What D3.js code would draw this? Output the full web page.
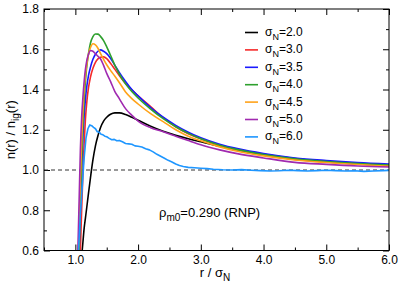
<!DOCTYPE html>
<html>
<head>
<meta charset="utf-8">
<script src="https://cdn.jsdelivr.net/npm/d3@7/dist/d3.min.js"></script>
<style>
	body { margin: 0; background: #fff; }
	text { font-family: "Liberation Sans", Arial, Helvetica, sans-serif; }
</style>
</head>
<body>
<script>
// shared r / sigma_N grid for the smooth curves
const rGrid = [1.02, 1.04, 1.06, 1.08, 1.10, 1.12, 1.14, 1.16, 1.18, 1.21, 1.24, 1.28, 1.32, 1.36, 1.40, 1.45, 1.50, 1.56, 1.63, 1.70,
	1.80, 1.90, 2.00, 2.20, 2.40, 2.60, 2.80, 3.00, 3.30, 3.60, 4.00, 4.50, 5.00, 5.50, 6.00];

const nSigma20 = [0.35, 0.40, 0.45, 0.51, 0.57, 0.64, 0.71, 0.76, 0.81, 0.886, 0.96, 1.05, 1.12, 1.17, 1.21, 1.243, 1.262, 1.277, 1.284, 1.284,
	1.276, 1.262, 1.247, 1.217, 1.192, 1.172, 1.155, 1.14, 1.118, 1.099, 1.078, 1.057, 1.042, 1.031, 1.022];
const nSigma30 = [0.2, 0.3, 0.42, 0.6, 0.8, 0.98, 1.13, 1.25, 1.33, 1.41, 1.46, 1.505, 1.535, 1.552, 1.56, 1.562, 1.553, 1.53, 1.50, 1.47,
	1.43, 1.398, 1.368, 1.315, 1.26, 1.215, 1.18, 1.155, 1.122, 1.10, 1.075, 1.053, 1.04, 1.03, 1.022];
const nSigma35 = [0.25, 0.42, 0.6, 0.82, 1.01, 1.16, 1.27, 1.35, 1.41, 1.47, 1.51, 1.55, 1.575, 1.59, 1.597, 1.59, 1.578, 1.555, 1.52, 1.485,
	1.44, 1.40, 1.368, 1.31, 1.262, 1.222, 1.188, 1.16, 1.128, 1.105, 1.082, 1.06, 1.047, 1.037, 1.03];
const nSigma40 = [0.25, 0.42, 0.6, 0.84, 1.05, 1.22, 1.35, 1.44, 1.51, 1.58, 1.63, 1.663, 1.676, 1.675, 1.664, 1.643, 1.612, 1.57, 1.52, 1.477,
	1.428, 1.39, 1.358, 1.303, 1.255, 1.215, 1.182, 1.155, 1.123, 1.10, 1.077, 1.056, 1.042, 1.032, 1.025];
const nSigma45 = [0.3, 0.5, 0.73, 0.95, 1.14, 1.29, 1.40, 1.47, 1.52, 1.575, 1.607, 1.627, 1.622, 1.605, 1.58, 1.55, 1.523, 1.495, 1.466, 1.435,
	1.388, 1.355, 1.328, 1.28, 1.24, 1.2, 1.168, 1.145, 1.115, 1.092, 1.07, 1.05, 1.037, 1.027, 1.019];
const nSigma50 = [0.4, 0.6, 0.85, 1.1, 1.26, 1.36, 1.44, 1.50, 1.54, 1.575, 1.594, 1.59, 1.578, 1.565, 1.553, 1.52, 1.48, 1.44, 1.39, 1.355,
	1.305, 1.272, 1.243, 1.21, 1.19, 1.168, 1.146, 1.125, 1.10, 1.08, 1.06, 1.038, 1.028, 1.02, 1.015];

// the sigma_N = 6.0 curve is noisy, sampled on its own grid
const rNoisy = [1.02, 1.05, 1.08, 1.11, 1.14, 1.17, 1.20, 1.23, 1.26, 1.29, 1.32, 1.35, 1.38, 1.41, 1.44, 1.47, 1.50, 1.54, 1.58, 1.62,
	1.66, 1.70, 1.75, 1.80, 1.85, 1.90, 1.95, 2.00, 2.06, 2.12, 2.18, 2.24, 2.30, 2.36, 2.42, 2.48, 2.54, 2.60, 2.66, 2.72,
	2.80, 2.90, 3.00, 3.10, 3.20, 3.35, 3.50, 3.65, 3.80, 3.95, 4.10, 4.25, 4.40, 4.55, 4.70, 4.85, 5.00, 5.15, 5.30, 5.45,
	5.60, 5.75, 5.90, 6.00];
const nSigma60 = [0.35, 0.6, 0.78, 0.92, 1.06, 1.16, 1.205, 1.224, 1.22, 1.212, 1.205, 1.19, 1.188, 1.178, 1.175, 1.168, 1.165, 1.157, 1.15, 1.152,
	1.145, 1.147, 1.14, 1.132, 1.13, 1.128, 1.12, 1.118, 1.114, 1.106, 1.10, 1.09, 1.078, 1.068, 1.058, 1.048, 1.04, 1.03, 1.022, 1.017,
	1.013, 1.011, 1.009, 1.007, 1.004, 1.001, 1.0, 1.002, 0.999, 0.997, 0.995, 0.996, 0.999, 0.997, 0.995, 0.997, 0.999, 0.997, 0.995, 0.996,
	0.993, 0.995, 0.997, 0.998];

const sigmaLabels = ["2.0", "3.0", "3.5", "4.0", "4.5", "5.0", "6.0"];
const seriesColors = ["#000000", "#f52a2a", "#1a1aff", "#2ea02e", "#ffa31a", "#a02ab0", "#1e96ff"];

const xMajor = [1, 2, 3, 4, 5, 6];
const xMinor = [0.5, 1.5, 2.5, 3.5, 4.5, 5.5];
const yMajor = [0.6, 0.8, 1.0, 1.2, 1.4, 1.6, 1.8];
const yMinor = [0.7, 0.9, 1.1, 1.3, 1.5, 1.7];

const series = [
	{ r: rGrid, n: nSigma20 },
	{ r: rGrid, n: nSigma30 },
	{ r: rGrid, n: nSigma35 },
	{ r: rGrid, n: nSigma40 },
	{ r: rGrid, n: nSigma45 },
	{ r: rGrid, n: nSigma50 },
	{ r: rNoisy, n: nSigma60, noisy: true }
].map((s, i) => ({ ...s, label: sigmaLabels[i], color: seriesColors[i] }));

const width = 399, height = 285;
const margin = { left: 44, right: 10, top: 9, bottom: 34.5 };

const x = d3.scaleLinear().domain([0.5, 6.0]).range([margin.left, width - margin.right]);
const y = d3.scaleLinear().domain([0.6, 1.8]).range([height - margin.bottom, margin.top]);

const svg = d3.select("body").append("svg")
	.attr("width", width)
	.attr("height", height);

svg.append("defs").append("clipPath")
	.attr("id", "plot-clip")
	.append("rect")
	.attr("x", x(0.5))
	.attr("y", y(1.8))
	.attr("width", x(6) - x(0.5))
	.attr("height", y(0.6) - y(1.8));

// axes: inward ticks on all four sides
function addAxis(axis, transform, labels) {
	const g = svg.append("g").attr("transform", transform).call(axis);
	g.select(".domain").remove();
	g.selectAll("line").attr("stroke", "#000").attr("stroke-width", 1);
	if (labels) {
		g.selectAll("text").attr("font-size", 12).attr("fill", "#000")
			.style("font-family", "'Liberation Sans', Arial, sans-serif");
	} else {
		g.selectAll("text").remove();
	}
	return g;
}

const fmt = d3.format(".1f");
const bottomY = y(0.6), topY = y(1.8), leftX = x(0.5), rightX = x(6);

addAxis(d3.axisBottom(x).tickValues(xMajor).tickSize(-6).tickPadding(5).tickFormat(fmt), `translate(0,${bottomY})`, true);
addAxis(d3.axisBottom(x).tickValues(xMinor).tickSize(-3), `translate(0,${bottomY})`, false);
addAxis(d3.axisTop(x).tickValues(xMajor).tickSize(-6), `translate(0,${topY})`, false);
addAxis(d3.axisTop(x).tickValues(xMinor).tickSize(-3), `translate(0,${topY})`, false);
addAxis(d3.axisLeft(y).tickValues(yMajor).tickSize(-6).tickPadding(5).tickFormat(fmt), `translate(${leftX},0)`, true);
addAxis(d3.axisLeft(y).tickValues(yMinor).tickSize(-3), `translate(${leftX},0)`, false);
addAxis(d3.axisRight(y).tickValues(yMajor).tickSize(-6), `translate(${rightX},0)`, false);
addAxis(d3.axisRight(y).tickValues(yMinor).tickSize(-3), `translate(${rightX},0)`, false);

// reference line at n = 1
svg.append("line")
	.attr("x1", leftX).attr("x2", rightX)
	.attr("y1", y(1)).attr("y2", y(1))
	.attr("stroke", "#333")
	.attr("stroke-width", 1)
	.attr("stroke-dasharray", "4,3");

const plot = svg.append("g").attr("clip-path", "url(#plot-clip)");

series.forEach(s => {
	const line = d3.line()
		.x(d => x(d[0]))
		.y(d => y(d[1]))
		.curve(s.noisy ? d3.curveLinear : d3.curveMonotoneX);
	plot.append("path")
		.datum(d3.zip(s.r, s.n))
		.attr("fill", "none")
		.attr("stroke", s.color)
		.attr("stroke-width", 1.6)
		.attr("stroke-linejoin", "round")
		.attr("d", line);
});

// frame
svg.append("rect")
	.attr("x", leftX).attr("y", topY)
	.attr("width", rightX - leftX).attr("height", bottomY - topY)
	.attr("fill", "none")
	.attr("stroke", "#000")
	.attr("stroke-width", 1);

// legend
const legend = svg.append("g").attr("transform", "translate(245,32.5)");
series.forEach((s, i) => {
	const row = legend.append("g").attr("transform", `translate(0,${i * 17.4})`);
	row.append("line")
		.attr("x1", 0).attr("x2", 13)
		.attr("stroke", s.color)
		.attr("stroke-width", 1.6);
	const t = row.append("text")
		.attr("x", 20).attr("y", 3.5)
		.attr("font-size", 12);
	t.append("tspan").text("σ");
	t.append("tspan").attr("font-size", 9).attr("dy", 4).text("N");
	t.append("tspan").attr("dy", -4).text("=" + s.label);
});

// annotation
const note = svg.append("text")
	.attr("x", 159).attr("y", 216.5)
	.attr("font-size", 13);
note.append("tspan").text("ρ");
note.append("tspan").attr("font-size", 10).attr("dy", 4).text("m0");
note.append("tspan").attr("dy", -4).text("=0.290 (RNP)");

// axis titles
const xTitle = svg.append("text")
	.attr("x", 215).attr("y", 277)
	.attr("text-anchor", "middle")
	.attr("font-size", 13);
xTitle.append("tspan").text("r / σ");
xTitle.append("tspan").attr("font-size", 10).attr("dy", 4).text("N");

const yTitle = svg.append("text")
	.attr("transform", `translate(15,${(topY + bottomY) / 2}) rotate(-90)`)
	.attr("text-anchor", "middle")
	.attr("font-size", 13);
yTitle.append("tspan").text("n(r) / n");
yTitle.append("tspan").attr("font-size", 10).attr("dy", 4).text("ig");
yTitle.append("tspan").attr("dy", -4).text("(r)");
</script>
</body>
</html>
